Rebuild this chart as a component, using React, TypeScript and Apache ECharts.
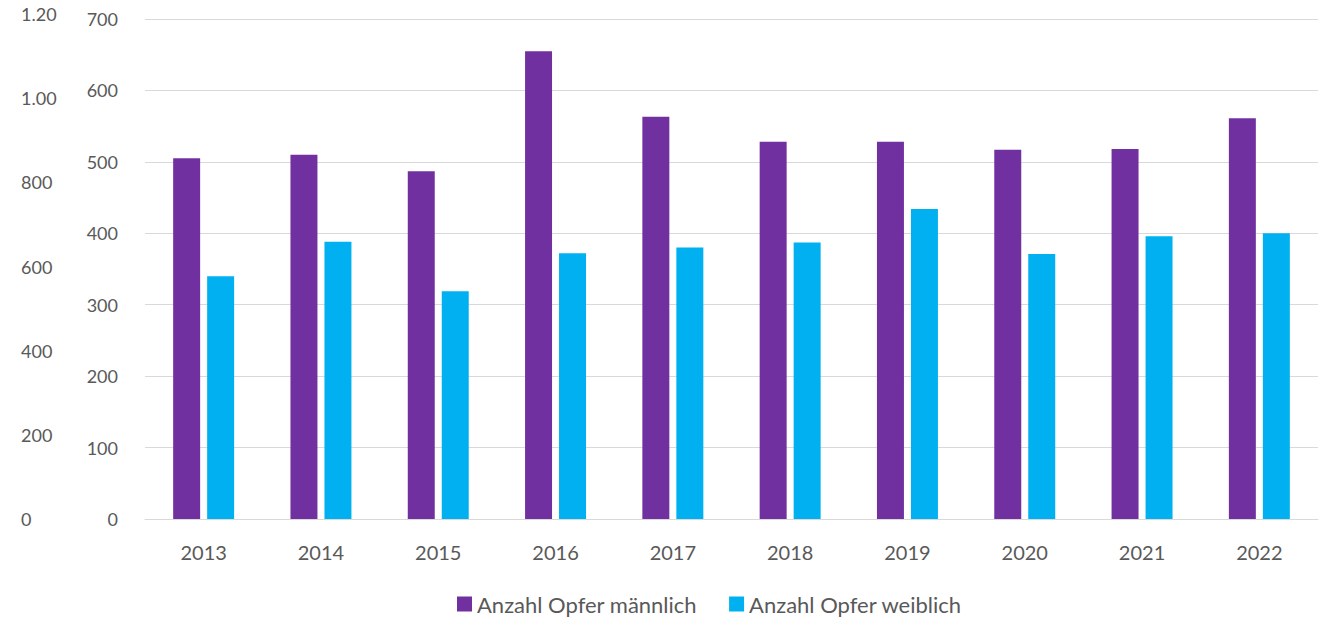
import React, { useEffect, useRef } from "react";
import * as echarts from "echarts";

const years = ["2013", "2014", "2015", "2016", "2017", "2018", "2019", "2020", "2021", "2022"];
const male = [505, 510, 487, 655, 563, 528, 528, 517, 518, 561];
const female = [340, 388, 319, 372, 380, 387, 434, 371, 396, 400];
const seriesNames = ["Anzahl Opfer männlich", "Anzahl Opfer weiblich"];

const FONT = "Lato, 'Open Sans', sans-serif";
const TXT = "#595959";

export default function App() {
  const ref = useRef<HTMLDivElement>(null);
  useEffect(() => {
    document.body.style.margin = "0";
    document.body.style.overflow = "hidden";
    const chart = echarts.init(ref.current!, null, { renderer: "svg" });
    chart.setOption({
      animation: false,
      textStyle: { fontFamily: FONT },
      grid: [
        { left: 145, right: 14, top: 19, bottom: 98 },
        { left: 70, right: 14, top: 14, bottom: 98 },
      ],
      legend: {
        top: 593,
        left: 457,
        padding: 0,
        itemWidth: 15,
        itemHeight: 15,
        itemGap: 32,
        icon: "rect",
        textStyle: { color: TXT, fontSize: 22, lineHeight: 22, fontFamily: FONT },
        data: seriesNames,
      },
      xAxis: [
        {
          type: "category",
          gridIndex: 0,
          data: years,
          axisLine: { lineStyle: { color: "#d9d9d9", width: 1 } },
          axisTick: { show: false },
          axisLabel: { color: TXT, fontSize: 20, margin: 23 },
        },
        { type: "category", gridIndex: 1, data: years, show: false },
      ],
      yAxis: [
        {
          type: "value",
          gridIndex: 0,
          min: 0,
          max: 700,
          interval: 100,
          axisLine: { show: false },
          axisTick: { show: false },
          splitLine: { lineStyle: { color: "#d9d9d9", width: 1 } },
          axisLabel: { color: TXT, fontSize: 18, margin: 27 },
        },
        {
          type: "value",
          gridIndex: 1,
          min: 0,
          max: 1200,
          interval: 200,
          axisLine: { show: false },
          axisTick: { show: false },
          splitLine: { show: false },
          axisLabel: {
            color: TXT,
            fontSize: 18,
            align: "left",
            margin: 49,
            width: 45,
            overflow: "truncate",
            ellipsis: "",
            formatter: (v: number) => v.toLocaleString("de-DE"),
          },
        },
      ],
      series: [
        {
          name: seriesNames[0],
          type: "bar",
          data: male,
          xAxisIndex: 0,
          yAxisIndex: 0,
          barWidth: "23%",
          barGap: "26%",
          itemStyle: { color: "#7030a0" },
        },
        {
          name: seriesNames[1],
          type: "bar",
          data: female,
          xAxisIndex: 0,
          yAxisIndex: 0,
          barWidth: "23%",
          barGap: "26%",
          itemStyle: { color: "#00b0f0" },
        },
      ],
    });
    return () => chart.dispose();
  }, []);
  return <div ref={ref} style={{ width: 1332, height: 617 }} />;
}
